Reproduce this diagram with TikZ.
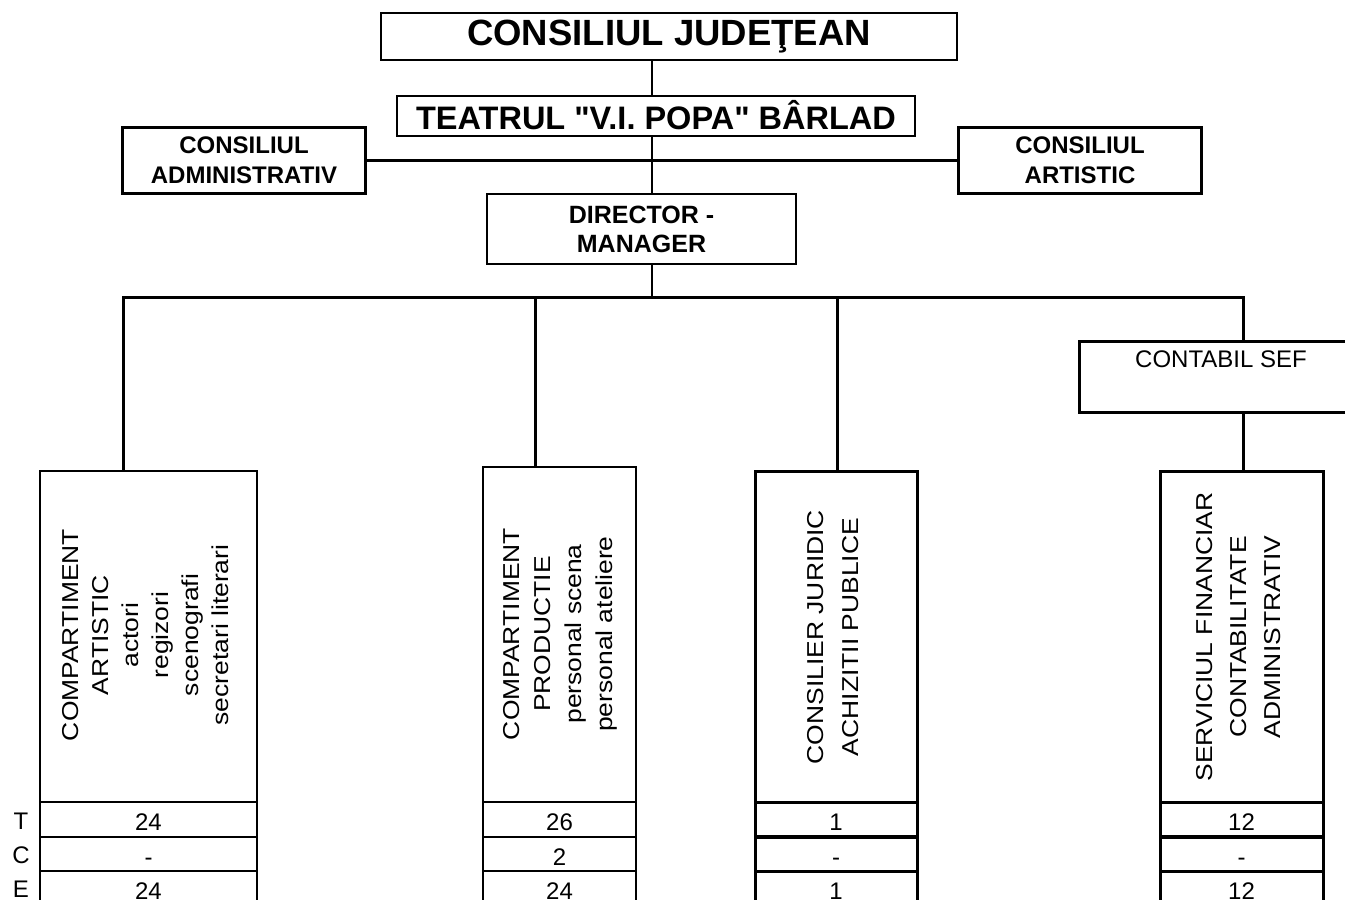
\documentclass[tikz,border=0pt]{standalone}
\usepackage{fontspec}
\setmainfont{Liberation Sans}
\usepackage{graphicx}
\newcommand\sq{\XeTeXglyph\XeTeXcharglyph"22\relax}
\newcommand\vlines[2]{\scalebox{1.15}[1]{\fontsize{23}{#1}\selectfont\begin{tabular}{@{}c@{}}#2\end{tabular}}}
\begin{document}
\begin{tikzpicture}[x=1pt,y=-1pt,
  bx/.style={draw, inner sep=0pt, outer sep=0pt, align=center},
  ln1/.style={line width=1.5pt},
  ln2/.style={line width=2pt},
  ln3/.style={line width=3pt},
  fbig/.style={font=\bfseries\fontsize{36.5}{40}\selectfont},
  fteat/.style={font=\bfseries\fontsize{32.5}{36}\selectfont},
  fmid/.style={font=\bfseries\fontsize{24}{30}\selectfont},
  fdir/.style={font=\bfseries\fontsize{25}{29}\selectfont},
  fnum/.style={font=\fontsize{24}{28}\selectfont},
  vtxt/.style={rotate=90, inner sep=0pt, anchor=center},
  cell/.style={bx, fnum, text height=22pt, text depth=0pt},
  cellA/.style={cell, ln1},
  cellB/.style={cell, ln3},
  r1/.style={minimum height=35pt},
  r2/.style={minimum height=34.5pt},
  r3/.style={minimum height=34pt}
]
\path[use as bounding box] (0,0) rectangle (1345,900);
\clip (0,0) rectangle (1345,900);

% top boxes
\node[bx, ln2, fbig, minimum width=576pt, minimum height=47pt] (cj) at (669,36.5) {CONSILIUL JUDEŢEAN};
\node[bx, ln2, fteat, minimum width=518pt, minimum height=40pt] (teatru) at (656,115.5) {TEATRUL \sq V.I. POPA\sq\ BÂRLAD};
\node[bx, ln3, fmid, minimum width=243pt, minimum height=66pt] (cadm) at (244,160.5) {CONSILIUL\\ADMINISTRATIV};
\node[bx, ln3, fmid, minimum width=243pt, minimum height=66pt] (cart) at (1080,160.5) {CONSILIUL\\ARTISTIC};
\node[bx, ln2, fdir, minimum width=309pt, minimum height=70pt] (dir) at (641.5,229) {DIRECTOR -\\MANAGER};
\node[bx, ln3, minimum width=273pt, minimum height=71pt] (contabil) at (1215.5,376.5) {};
\node[fnum, inner sep=0pt] (contabilt) at (1221,359) {CONTABIL SEF};

% lower boxes
\node[bx, ln1, minimum width=217pt, minimum height=331pt] (box1) at (148.5,636.5) {};
\node[bx, ln1, minimum width=153pt, minimum height=335pt] (box2) at (559.5,634.5) {};
\node[bx, ln3, minimum width=162pt, minimum height=331pt] (box3) at (836,636.5) {};
\node[bx, ln3, minimum width=163pt, minimum height=331pt] (box4) at (1241.5,636.5) {};

\node[vtxt] (box1t) at (147,635) {\vlines{30}{COMPARTIMENT\\ARTISTIC\\actori\\regizori\\scenografi\\secretari literari}};
\node[vtxt] (box2t) at (560,634) {\vlines{31}{COMPARTIMENT\\PRODUCTIE\\personal scena\\personal ateliere}};
\node[vtxt] (box3t) at (834,637) {\vlines{35}{CONSILIER JURIDIC\\ACHIZITII PUBLICE}};
\node[vtxt] (box4t) at (1240,637) {\vlines{34}{SERVICIUL FINANCIAR\\CONTABILITATE\\ADMINISTRATIV}};

% tables
\node[cellA, r1, minimum width=217pt] (t1a) at (148.5,819.5) {24};
\node[cellA, r2, minimum width=217pt] (t1b) at (148.5,854) {-};
\node[cellA, r3, minimum width=217pt] (t1c) at (148.5,888) {24};
\node[cellA, r1, minimum width=153pt] (t2a) at (559.5,819.5) {26};
\node[cellA, r2, minimum width=153pt] (t2b) at (559.5,854) {2};
\node[cellA, r3, minimum width=153pt] (t2c) at (559.5,888) {24};
\node[cellB, r1, minimum width=162pt] (t3a) at (836,819.5) {1};
\node[cellB, r2, minimum width=162pt] (t3b) at (836,854) {-};
\node[cellB, r3, minimum width=162pt] (t3c) at (836,888) {1};
\node[cellB, r1, minimum width=163pt] (t4a) at (1241.5,819.5) {12};
\node[cellB, r2, minimum width=163pt] (t4b) at (1241.5,854) {-};
\node[cellB, r3, minimum width=163pt] (t4c) at (1241.5,888) {12};

\node[fnum, inner sep=0pt] (lt) at (21,821) {T};
\node[fnum, inner sep=0pt] (lc) at (21,855) {C};
\node[fnum, inner sep=0pt] (le) at (21,889) {E};

% connectors
\coordinate (tk) at (652,0);
\coordinate (busl) at (123,297);
\coordinate (busr) at (1243,297);
\coordinate (d2) at (535,297);
\coordinate (d3) at (837,297);
\draw[ln1] (cj.south -| tk) -- (teatru.north -| tk);
\draw[ln1] (teatru.south -| tk) -- (dir.north -| tk);
\draw[ln1] (dir.south -| tk) -- (tk |- busl);
\draw[ln3] (cadm.east) -- (cart.west);
\draw[ln3, line join=miter] (box1.north -| busl) -- (busl) -- (busr) -- (contabil.north -| busr);
\draw[ln3] (d2) -- (box2.north -| d2);
\draw[ln3] (d3) -- (box3.north -| d3);
\draw[ln3] (contabil.south -| busr) -- (box4.north -| busr);
\end{tikzpicture}
\end{document}
